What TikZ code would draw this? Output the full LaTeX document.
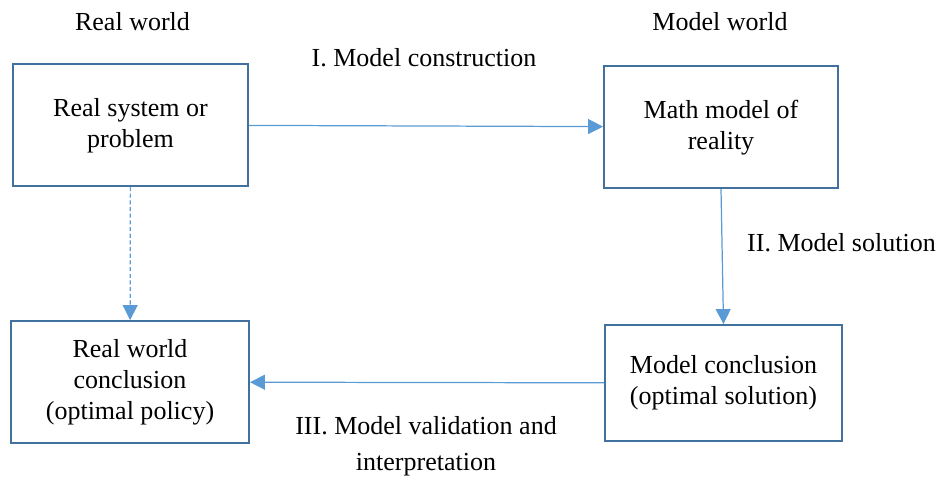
\documentclass[tikz,border=0pt]{standalone}
\usepackage{fontspec}
\setmainfont{Liberation Serif}
\usetikzlibrary{arrows.meta}

\definecolor{boxblue}{HTML}{41719C}
\definecolor{arrowblue}{HTML}{5B9BD5}

\tikzset{
  stagebox/.style={draw=boxblue,line width=1.1pt,align=center,inner sep=0pt},
  flow/.style={draw=arrowblue,line width=0.7pt,-{Triangle[length=8.5pt,width=8.5pt]}},
  caption/.style={align=center,inner sep=0pt}
}

\begin{document}
\begin{tikzpicture}[font=\fontsize{14.8}{17.6}\selectfont]
            \useasboundingbox (0,0) rectangle (18.74,-9.56);

            % the four boxes
            \node[stagebox,minimum width=4.7cm,minimum height=2.44cm,text depth=0.08cm] (realsys) at (2.61,-2.5) {Real system or\\problem};
            \node[stagebox,minimum width=4.68cm,minimum height=2.44cm,text depth=0.08cm] (mathmodel) at (14.42,-2.54) {Math model of\\reality};
            \node[stagebox,minimum width=4.76cm,minimum height=2.44cm] (realconcl) at (2.6,-7.64) {Real world\\conclusion\\(optimal policy)};
            \node[stagebox,minimum width=4.74cm,minimum height=2.32cm] (modelconcl) at (14.47,-7.66) {Model conclusion\\(optimal solution)};

            % headings
            \node[caption] (realworld) at (2.65,-0.44) {Real world};
            \node[caption] (modelworld) at (14.4,-0.44) {Model world};

            % step labels
            \node[caption] (construct) at (8.48,-1.16) {I. Model construction};
            \node[caption] (solve) at (16.83,-4.86) {II. Model solution};
            \node[caption,font=\fontsize{14.8}{20.5}\selectfont] (validate) at (8.52,-8.93) {III. Model validation and\\interpretation};

            % connectors
            \draw[flow] (realsys) -- (mathmodel);
            \draw[flow] (mathmodel.south) -- (modelconcl.north);
            \draw[flow] (modelconcl) -- (realconcl);
            \draw[flow,dash pattern=on 2.3pt off 1.5pt] (realsys) -- (realconcl);
        \end{tikzpicture}
\end{document}
